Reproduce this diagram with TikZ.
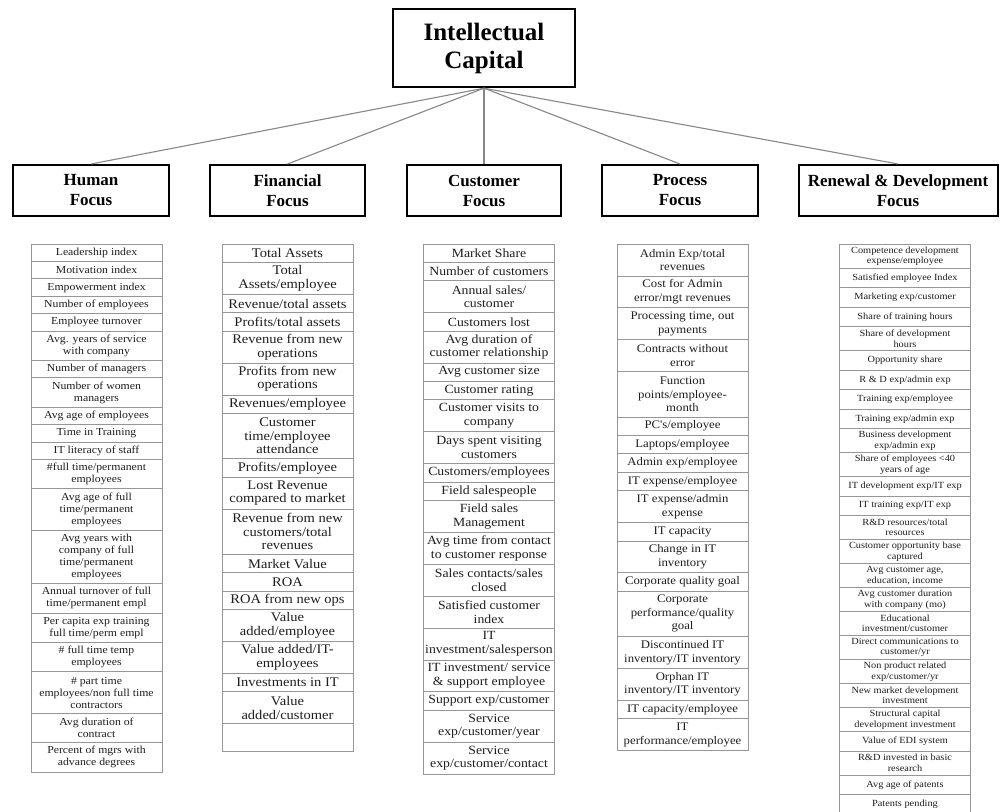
\documentclass[tikz,border=0pt]{standalone}
\usepackage{fontspec}
\setmainfont{Liberation Serif}
\newfontfamily\cellfont[FakeStretch=1.1]{Liberation Serif}
\definecolor{linkgray}{RGB}{135,135,135}
\definecolor{cellgray}{RGB}{150,150,150}
\definecolor{txt}{RGB}{30,30,30}
\begin{document}
\begin{tikzpicture}[x=1pt,y=-1pt,
  icbox/.style={draw=black, line width=2.4pt, minimum width=182, minimum height=78, align=center, inner sep=0pt, font=\bfseries\fontsize{25}{28}\selectfont},
  focus/.style={draw=black, line width=2pt, minimum height=51, align=center, inner sep=0pt, font=\bfseries\fontsize{17}{20}\selectfont},
  link/.style={draw=linkgray, line width=1.1pt},
  cell/.style={draw=cellgray, line width=0.7pt, minimum width=131, inner xsep=1pt, inner ysep=0pt, outer sep=0pt, align=center, text=txt, anchor=north},
  ln/.style={minimum height={\hone+(#1-1)*\lsp}},
  hcol/.style={cell, font=\cellfont\fontsize{10.7}{12}\selectfont},
  fcol/.style={cell, font=\cellfont\fontsize{13.2}{13.5}\selectfont},
  ccol/.style={cell, font=\cellfont\fontsize{12.5}{13.5}\selectfont},
  pcol/.style={cell, font=\cellfont\fontsize{11.6}{13.5}\selectfont},
  rcol/.style={cell, font=\cellfont\fontsize{9.4}{10.5}\selectfont}
]
\clip (0,0) rectangle (1000,811);
\fill[white] (0,0) rectangle (1000,811);

% top and focus boxes
\node[icbox] (ic) at (484,48) {Intellectual\\Capital};
\node[focus, minimum width=156] (hf) at (91,190.5) {Human\\Focus};
\node[focus, minimum width=155] (ff) at (287.5,190.5) {Financial\\Focus};
\node[focus, minimum width=154] (cf) at (484,190.5) {Customer\\Focus};
\node[focus, minimum width=156] (pf) at (680,190.5) {Process\\Focus};
\node[focus, minimum width=199] (rf) at (898,190.5) {Renewal \& Development\\Focus};

\draw[link] (ic.south) -- (hf.north);
\draw[link] (ic.south) -- (ff.north);
\draw[link] (ic.south) -- (cf.north);
\draw[link] (ic.south) -- (pf.north);
\draw[link] (ic.south) -- (rf.north);

% Human focus column
\def\hone{17.4}\def\lsp{12}
\node[hcol, ln=1] (h1) at (96.5,244) {Leadership index};
\node[hcol, ln=1] (h2) at (h1.south) {Motivation index};
\node[hcol, ln=1] (h3) at (h2.south) {Empowerment index};
\node[hcol, ln=1] (h4) at (h3.south) {Number of employees};
\node[hcol, ln=1] (h5) at (h4.south) {Employee turnover};
\node[hcol, ln=2] (h6) at (h5.south) {Avg. years of service\\with company};
\node[hcol, ln=1] (h7) at (h6.south) {Number of managers};
\node[hcol, ln=2] (h8) at (h7.south) {Number of women\\managers};
\node[hcol, ln=1] (h9) at (h8.south) {Avg age of employees};
\node[hcol, ln=1] (h10) at (h9.south) {Time in Training};
\node[hcol, ln=1] (h11) at (h10.south) {IT literacy of staff};
\node[hcol, ln=2] (h12) at (h11.south) {\#full time/permanent\\employees};
\node[hcol, ln=3] (h13) at (h12.south) {Avg age of full\\time/permanent\\employees};
\node[hcol, ln=4] (h14) at (h13.south) {Avg years with\\company of full\\time/permanent\\employees};
\node[hcol, ln=2] (h15) at (h14.south) {Annual turnover of full\\time/permanent empl};
\node[hcol, ln=2] (h16) at (h15.south) {Per capita exp training\\full time/perm empl};
\node[hcol, ln=2] (h17) at (h16.south) {\# full time temp\\employees};
\node[hcol, ln=3] (h18) at (h17.south) {\# part time\\employees/non full time\\contractors};
\node[hcol, ln=2] (h19) at (h18.south) {Avg duration of\\contract};
\node[hcol, ln=2] (h20) at (h19.south) {Percent of mgrs with\\advance degrees};

% Financial focus column
\def\hone{18.4}\def\lsp{13.5}
\node[fcol, ln=1] (f1) at (287.5,244) {Total Assets};
\node[fcol, ln=2] (f2) at (f1.south) {Total\\Assets/employee};
\node[fcol, ln=1] (f3) at (f2.south) {Revenue/total assets};
\node[fcol, ln=1] (f4) at (f3.south) {Profits/total assets};
\node[fcol, ln=2] (f5) at (f4.south) {Revenue from new\\operations};
\node[fcol, ln=2] (f6) at (f5.south) {Profits from new\\operations};
\node[fcol, ln=1] (f7) at (f6.south) {Revenues/employee};
\node[fcol, ln=3] (f8) at (f7.south) {Customer\\time/employee\\attendance};
\node[fcol, ln=1] (f9) at (f8.south) {Profits/employee};
\node[fcol, ln=2] (f10) at (f9.south) {Lost Revenue\\compared to market};
\node[fcol, ln=3] (f11) at (f10.south) {Revenue from new\\customers/total\\revenues};
\node[fcol, ln=1] (f12) at (f11.south) {Market Value};
\node[fcol, ln=1] (f13) at (f12.south) {ROA};
\node[fcol, ln=1] (f14) at (f13.south) {ROA from new ops};
\node[fcol, ln=2] (f15) at (f14.south) {Value\\added/employee};
\node[fcol, ln=2] (f16) at (f15.south) {Value added/IT-\\employees};
\node[fcol, ln=1] (f17) at (f16.south) {Investments in IT};
\node[fcol, ln=2] (f18) at (f17.south) {Value\\added/customer};
\node[fcol, minimum height=28] (f19) at (f18.south) {};

% Customer focus column
\node[ccol, ln=1] (c1) at (489,244) {Market Share};
\node[ccol, ln=1] (c2) at (c1.south) {Number of customers};
\node[ccol, ln=2] (c3) at (c2.south) {Annual sales/\\customer};
\node[ccol, ln=1] (c4) at (c3.south) {Customers lost};
\node[ccol, ln=2] (c5) at (c4.south) {Avg duration of\\customer relationship};
\node[ccol, ln=1] (c6) at (c5.south) {Avg customer size};
\node[ccol, ln=1] (c7) at (c6.south) {Customer rating};
\node[ccol, ln=2] (c8) at (c7.south) {Customer visits to\\company};
\node[ccol, ln=2] (c9) at (c8.south) {Days spent visiting\\customers};
\node[ccol, ln=1] (c10) at (c9.south) {Customers/employees};
\node[ccol, ln=1] (c11) at (c10.south) {Field salespeople};
\node[ccol, ln=2] (c12) at (c11.south) {Field sales\\Management};
\node[ccol, ln=2] (c13) at (c12.south) {Avg time from contact\\to customer response};
\node[ccol, ln=2] (c14) at (c13.south) {Sales contacts/sales\\closed};
\node[ccol, ln=2] (c15) at (c14.south) {Satisfied customer\\index};
\node[ccol, ln=2] (c16) at (c15.south) {IT\\investment/salesperson};
\node[ccol, ln=2] (c17) at (c16.south) {IT investment/ service\\\& support employee};
\node[ccol, ln=1] (c18) at (c17.south) {Support exp/customer};
\node[ccol, ln=2] (c19) at (c18.south) {Service\\exp/customer/year};
\node[ccol, ln=2] (c20) at (c19.south) {Service\\exp/customer/contact};

% Process focus column
\node[pcol, ln=2] (p1) at (682.5,244) {Admin Exp/total\\revenues};
\node[pcol, ln=2] (p2) at (p1.south) {Cost for Admin\\error/mgt revenues};
\node[pcol, ln=2] (p3) at (p2.south) {Processing time, out\\payments};
\node[pcol, ln=2] (p4) at (p3.south) {Contracts without\\error};
\node[pcol, ln=3] (p5) at (p4.south) {Function\\points/employee-\\month};
\node[pcol, ln=1] (p6) at (p5.south) {PC's/employee};
\node[pcol, ln=1] (p7) at (p6.south) {Laptops/employee};
\node[pcol, ln=1] (p8) at (p7.south) {Admin exp/employee};
\node[pcol, ln=1] (p9) at (p8.south) {IT expense/employee};
\node[pcol, ln=2] (p10) at (p9.south) {IT expense/admin\\expense};
\node[pcol, ln=1] (p11) at (p10.south) {IT capacity};
\node[pcol, ln=2] (p12) at (p11.south) {Change in IT\\inventory};
\node[pcol, ln=1] (p13) at (p12.south) {Corporate quality goal};
\node[pcol, ln=3] (p14) at (p13.south) {Corporate\\performance/quality\\goal};
\node[pcol, ln=2] (p15) at (p14.south) {Discontinued IT\\inventory/IT inventory};
\node[pcol, ln=2] (p16) at (p15.south) {Orphan IT\\inventory/IT inventory};
\node[pcol, ln=1] (p17) at (p16.south) {IT capacity/employee};
\node[pcol, ln=2] (p18) at (p17.south) {IT\\performance/employee};

% Renewal & Development focus column
\def\hone{19.5}\def\lsp{4.5}
\node[rcol, ln=2] (r1) at (905,244) {Competence development\\expense/employee};
\node[rcol, ln=1] (r2) at (r1.south) {Satisfied employee Index};
\node[rcol, ln=1] (r3) at (r2.south) {Marketing exp/customer};
\node[rcol, ln=1] (r4) at (r3.south) {Share of training hours};
\node[rcol, ln=2] (r5) at (r4.south) {Share of development\\hours};
\node[rcol, ln=1] (r6) at (r5.south) {Opportunity share};
\node[rcol, ln=1] (r7) at (r6.south) {R \& D exp/admin exp};
\node[rcol, ln=1] (r8) at (r7.south) {Training exp/employee};
\node[rcol, ln=1] (r9) at (r8.south) {Training exp/admin exp};
\node[rcol, ln=2] (r10) at (r9.south) {Business development\\exp/admin exp};
\node[rcol, ln=2] (r11) at (r10.south) {Share of employees <40\\years of age};
\node[rcol, ln=1] (r12) at (r11.south) {IT development exp/IT exp};
\node[rcol, ln=1] (r13) at (r12.south) {IT training exp/IT exp};
\node[rcol, ln=2] (r14) at (r13.south) {R\&D resources/total\\resources};
\node[rcol, ln=2] (r15) at (r14.south) {Customer opportunity base\\captured};
\node[rcol, ln=2] (r16) at (r15.south) {Avg customer age,\\education, income};
\node[rcol, ln=2] (r17) at (r16.south) {Avg customer duration\\with company (mo)};
\node[rcol, ln=2] (r18) at (r17.south) {Educational\\investment/customer};
\node[rcol, ln=2] (r19) at (r18.south) {Direct communications to\\customer/yr};
\node[rcol, ln=2] (r20) at (r19.south) {Non product related\\exp/customer/yr};
\node[rcol, ln=2] (r21) at (r20.south) {New market development\\investment};
\node[rcol, ln=2] (r22) at (r21.south) {Structural capital\\development investment};
\node[rcol, ln=1] (r23) at (r22.south) {Value of EDI system};
\node[rcol, ln=2] (r24) at (r23.south) {R\&D invested in basic\\research};
\node[rcol, ln=1] (r25) at (r24.south) {Avg age of patents};
\node[rcol, ln=1] (r26) at (r25.south) {Patents pending};
\end{tikzpicture}
\end{document}
